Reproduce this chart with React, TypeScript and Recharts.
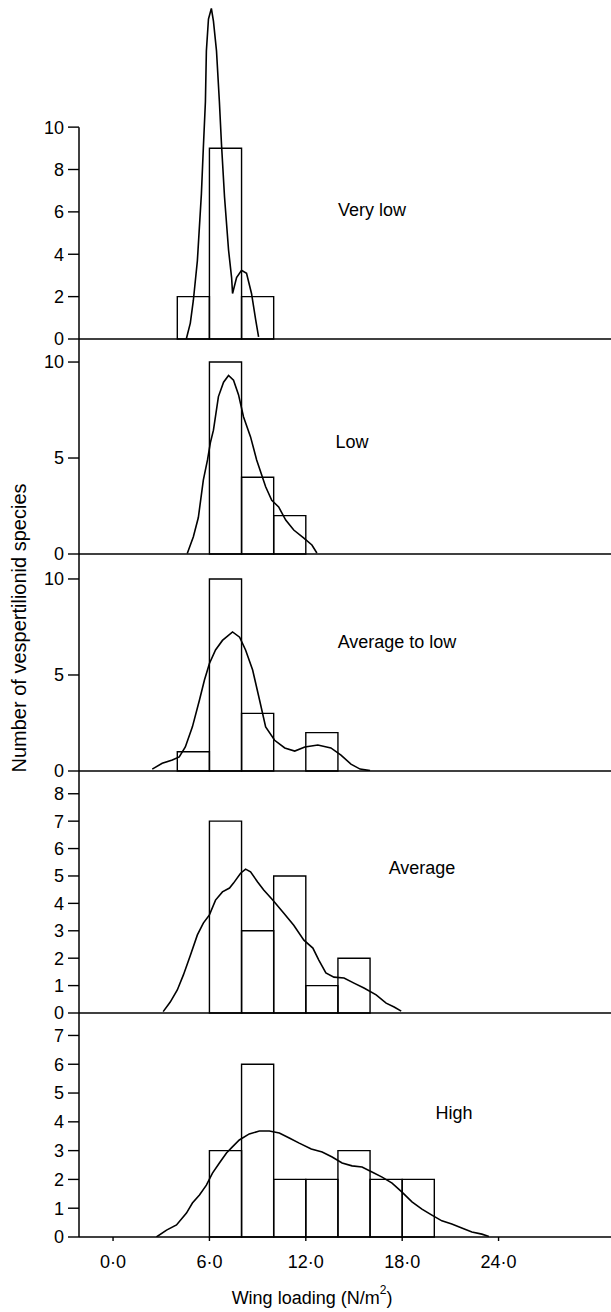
import React from 'react'
import { ComposedChart, Line, XAxis, YAxis, ReferenceArea, ReferenceLine } from 'recharts'

const FONT = '"Liberation Sans", Arial, Helvetica, sans-serif'

const wingTicks = [0, 6, 12, 18, 24]
const wingTickLabels = ['0·0', '6·0', '12·0', '18·0', '24·0']
const BIN_WIDTH = 2

const veryLowBins = [4, 6, 8]
const veryLowCounts = [2, 9, 2]
const veryLowCurve = [
  { w: 4.56, n: 0 }, { w: 4.81, n: 0.75 }, { w: 5.0, n: 1.83 }, { w: 5.25, n: 3.7 },
  { w: 5.5, n: 6.85 }, { w: 5.62, n: 9.0 }, { w: 5.75, n: 11.2 }, { w: 5.81, n: 13.6 },
  { w: 5.94, n: 15.1 }, { w: 6.12, n: 15.6 }, { w: 6.25, n: 15.0 }, { w: 6.44, n: 13.6 },
  { w: 6.62, n: 11.2 }, { w: 6.75, n: 9.2 }, { w: 6.94, n: 6.7 }, { w: 7.19, n: 4.2 },
  { w: 7.38, n: 2.9 }, { w: 7.44, n: 2.15 }, { w: 7.69, n: 2.9 }, { w: 8.0, n: 3.24 },
  { w: 8.31, n: 3.1 }, { w: 8.62, n: 2.15 }, { w: 8.88, n: 0.9 }, { w: 9.06, n: 0.1 },
]

const lowBins = [6, 8, 10]
const lowCounts = [10, 4, 2]
const lowCurve = [
  { w: 4.62, n: 0.03 }, { w: 5.0, n: 0.9 }, { w: 5.31, n: 1.9 }, { w: 5.62, n: 3.85 },
  { w: 5.88, n: 4.9 }, { w: 6.06, n: 5.8 }, { w: 6.25, n: 6.45 }, { w: 6.56, n: 8.2 },
  { w: 6.88, n: 8.95 }, { w: 7.19, n: 9.3 }, { w: 7.5, n: 9.05 }, { w: 7.81, n: 8.3 },
  { w: 8.12, n: 7.15 }, { w: 8.56, n: 6.1 }, { w: 8.94, n: 4.9 }, { w: 9.5, n: 3.5 },
  { w: 9.88, n: 2.8 }, { w: 10.31, n: 2.45 }, { w: 10.75, n: 1.77 }, { w: 11.25, n: 1.25 },
  { w: 11.88, n: 0.83 }, { w: 12.38, n: 0.47 }, { w: 12.69, n: 0.05 },
]

const avgLowBins = [4, 6, 8, 12]
const avgLowCounts = [1, 10, 3, 2]
const avgLowCurve = [
  { w: 2.44, n: 0.1 }, { w: 3.06, n: 0.4 }, { w: 3.69, n: 0.57 }, { w: 4.12, n: 0.73 },
  { w: 4.5, n: 1.25 }, { w: 4.94, n: 2.3 }, { w: 5.38, n: 3.7 }, { w: 5.69, n: 4.74 },
  { w: 6.0, n: 5.6 }, { w: 6.38, n: 6.3 }, { w: 6.81, n: 6.8 }, { w: 7.44, n: 7.24 },
  { w: 7.88, n: 6.97 }, { w: 8.25, n: 6.3 }, { w: 8.69, n: 5.26 }, { w: 9.12, n: 3.7 },
  { w: 9.5, n: 2.3 }, { w: 10.06, n: 1.6 }, { w: 10.69, n: 1.2 }, { w: 11.31, n: 1.04 },
  { w: 11.94, n: 1.25 }, { w: 12.75, n: 1.35 }, { w: 13.56, n: 1.2 }, { w: 14.19, n: 0.83 },
  { w: 14.81, n: 0.36 }, { w: 15.38, n: 0.1 }, { w: 16.0, n: 0.02 },
]

const averageBins = [6, 8, 10, 12, 14]
const averageCounts = [7, 3, 5, 1, 2]
const averageCurve = [
  { w: 3.12, n: 0.05 }, { w: 3.56, n: 0.4 }, { w: 4.0, n: 0.84 }, { w: 4.38, n: 1.39 },
  { w: 4.81, n: 2.1 }, { w: 5.25, n: 2.85 }, { w: 5.62, n: 3.28 }, { w: 6.0, n: 3.58 },
  { w: 6.38, n: 4.12 }, { w: 6.81, n: 4.42 }, { w: 7.25, n: 4.56 }, { w: 7.5, n: 4.74 },
  { w: 7.94, n: 5.1 }, { w: 8.25, n: 5.25 }, { w: 8.56, n: 5.15 }, { w: 9.0, n: 4.78 },
  { w: 9.38, n: 4.49 }, { w: 9.94, n: 4.12 }, { w: 10.62, n: 3.65 }, { w: 11.25, n: 3.2 },
  { w: 11.88, n: 2.66 }, { w: 12.44, n: 2.37 }, { w: 12.81, n: 1.93 }, { w: 13.25, n: 1.46 },
  { w: 13.75, n: 1.31 }, { w: 14.38, n: 1.28 }, { w: 15.0, n: 1.09 }, { w: 15.62, n: 0.91 },
  { w: 16.38, n: 0.66 }, { w: 17.0, n: 0.36 }, { w: 17.5, n: 0.22 }, { w: 17.94, n: 0.07 },
]

const highBins = [6, 8, 10, 12, 14, 16, 18]
const highCounts = [3, 6, 2, 2, 3, 2, 2]
const highCurve = [
  { w: 2.7, n: 0 }, { w: 3.33, n: 0.24 }, { w: 3.95, n: 0.42 }, { w: 4.57, n: 0.83 },
  { w: 4.94, n: 1.18 }, { w: 5.38, n: 1.46 }, { w: 5.81, n: 1.8 }, { w: 6.19, n: 2.22 },
  { w: 6.62, n: 2.57 }, { w: 7.06, n: 2.92 }, { w: 7.43, n: 3.13 }, { w: 7.86, n: 3.37 },
  { w: 8.48, n: 3.58 }, { w: 9.11, n: 3.68 }, { w: 9.73, n: 3.68 }, { w: 10.35, n: 3.61 },
  { w: 10.97, n: 3.44 }, { w: 11.59, n: 3.26 }, { w: 12.34, n: 3.06 }, { w: 13.02, n: 2.95 },
  { w: 13.64, n: 2.78 }, { w: 14.26, n: 2.57 }, { w: 14.88, n: 2.47 }, { w: 15.5, n: 2.43 },
  { w: 16.12, n: 2.26 }, { w: 16.75, n: 2.08 }, { w: 17.37, n: 1.87 }, { w: 17.99, n: 1.56 },
  { w: 18.61, n: 1.22 }, { w: 19.23, n: 0.97 }, { w: 19.85, n: 0.76 }, { w: 20.47, n: 0.56 },
  { w: 21.09, n: 0.45 }, { w: 21.71, n: 0.31 }, { w: 22.34, n: 0.17 }, { w: 22.96, n: 0.1 },
  { w: 23.4, n: 0.02 },
]

const X_MIN = -2.12
const X_MAX = 31
const AXIS_H = 40

const panels = [
  { name: 'Very low', top: 0, h: 339, yMax: 16, yTicks: [0, 2, 4, 6, 8, 10], bins: veryLowBins, counts: veryLowCounts, curve: veryLowCurve, lx: 372, ly: 210, axisTo: 10 },
  { name: 'Low', top: 339, h: 215, yMax: 11.2, yTicks: [0, 5, 10], bins: lowBins, counts: lowCounts, curve: lowCurve, lx: 352, ly: 442 },
  { name: 'Average to low', top: 554, h: 217, yMax: 11.3, yTicks: [0, 5, 10], bins: avgLowBins, counts: avgLowCounts, curve: avgLowCurve, lx: 397, ly: 642 },
  { name: 'Average', top: 771, h: 242, yMax: 8.83, yTicks: [0, 1, 2, 3, 4, 5, 6, 7, 8], bins: averageBins, counts: averageCounts, curve: averageCurve, lx: 422, ly: 868 },
  { name: 'High', top: 1013, h: 224, yMax: 7.78, yTicks: [0, 1, 2, 3, 4, 5, 6, 7], bins: highBins, counts: highCounts, curve: highCurve, lx: 454, ly: 1113 },
]

const tickStyle = { fontSize: 18, fill: '#000', fontFamily: FONT }

export default function App() {
  return (
    <div style={{ position: 'absolute', left: 0, top: 0, width: 611, height: 1312, background: '#fff', fontFamily: FONT }}>
      {panels.map((p, idx) => {
        const last = idx === panels.length - 1
        return (
          <div key={p.name} style={{ position: 'absolute', left: 0, top: p.top }}>
            <ComposedChart width={611} height={p.h + AXIS_H} margin={{ top: 0, right: 0, bottom: 0, left: 0 }}>
              <XAxis
                type="number"
                dataKey="w"
                domain={[X_MIN, X_MAX]}
                ticks={wingTicks}
                interval={0}
                allowDataOverflow
                height={AXIS_H}
                tickSize={4}
                tickMargin={14}
                stroke="#000"
                axisLine={{ stroke: '#000', strokeWidth: 1.5 }}
                tickLine={{ stroke: '#000', strokeWidth: 1.4 }}
                tick={last ? tickStyle : false}
                tickFormatter={(v: number) => wingTickLabels[wingTicks.indexOf(v)] ?? String(v)}
              />
              <YAxis
                type="number"
                domain={[0, p.yMax]}
                ticks={p.yTicks}
                interval={0}
                allowDataOverflow
                width={79}
                tickSize={11}
                tickMargin={4}
                axisLine={p.axisTo ? false : { stroke: '#000', strokeWidth: 1.5 }}
                tickLine={{ stroke: '#000', strokeWidth: 1.4 }}
                tick={tickStyle}
              />
              {p.axisTo ? (
                <ReferenceLine
                  segment={[{ x: X_MIN, y: 0 }, { x: X_MIN, y: p.axisTo }]}
                  stroke="#000"
                  strokeWidth={1.5}
                  ifOverflow="visible"
                />
              ) : null}
              {p.bins.map((b, i) => (
                <ReferenceArea
                  key={b}
                  x1={b}
                  x2={b + BIN_WIDTH}
                  y1={0}
                  y2={p.counts[i]}
                  fill="none"
                  fillOpacity={0}
                  stroke="#000"
                  strokeWidth={1.4}
                  strokeOpacity={1}
                  ifOverflow="visible"
                />
              ))}
              <Line
                data={p.curve}
                dataKey="n"
                type="linear"
                dot={false}
                activeDot={false}
                stroke="#000"
                strokeWidth={1.6}
                isAnimationActive={false}
              />
            </ComposedChart>
          </div>
        )
      })}
      <svg width={611} height={1312} style={{ position: 'absolute', left: 0, top: 0, pointerEvents: 'none' }}>
        {panels.map((p) => (
          <text key={p.name} x={p.lx} y={p.ly} textAnchor="middle" dominantBaseline="central" fontSize={18} fontFamily={FONT} fill="#000">
            {p.name}
          </text>
        ))}
        <text
          transform="translate(19,628) rotate(-90)"
          textAnchor="middle"
          dominantBaseline="central"
          fontSize={20}
          fontFamily={FONT}
          fill="#000"
        >
          Number of vespertilionid species
        </text>
        <text x={312} y={1298} textAnchor="middle" dominantBaseline="central" fontSize={18} fontFamily={FONT} fill="#000">
          Wing loading (N/m
          <tspan fontSize={12} dy={-8}>2</tspan>
          <tspan dy={8}>)</tspan>
        </text>
      </svg>
    </div>
  )
}
